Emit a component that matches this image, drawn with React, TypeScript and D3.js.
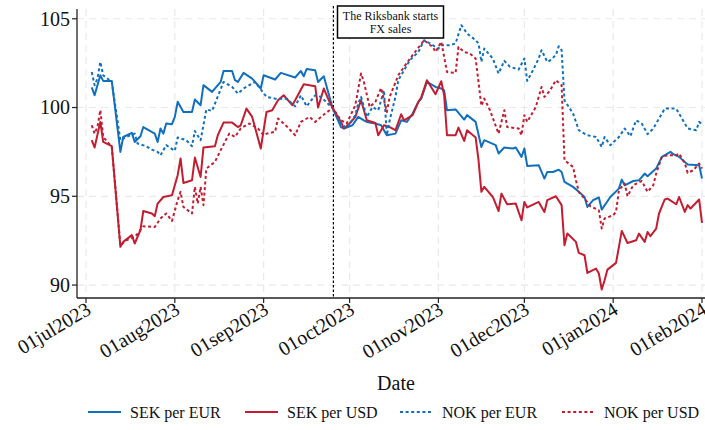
import React from "react";
import * as d3 from "d3";

type Pt = [string, number];

const sekPerEur: Pt[] = [
  ["2023-07-03", 101.13], ["2023-07-04", 100.69], ["2023-07-06", 101.82], ["2023-07-07", 101.5],
  ["2023-07-10", 101.5], ["2023-07-13", 97.5], ["2023-07-14", 98.34], ["2023-07-17", 98.57],
  ["2023-07-18", 98.06], ["2023-07-20", 98.38], ["2023-07-21", 98.9], ["2023-07-25", 98.53],
  ["2023-07-26", 98.06], ["2023-07-27", 98.82], ["2023-07-28", 98.53], ["2023-07-29", 99.1],
  ["2023-07-31", 99.06], ["2023-08-01", 99.47], ["2023-08-02", 100.32], ["2023-08-04", 99.75],
  ["2023-08-07", 99.75], ["2023-08-08", 100.45], ["2023-08-10", 100.13], ["2023-08-11", 101.26],
  ["2023-08-14", 100.88], ["2023-08-17", 101.44], ["2023-08-18", 102.06], ["2023-08-21", 102.06],
  ["2023-08-22", 101.54], ["2023-08-23", 101.44], ["2023-08-25", 101.95], ["2023-08-28", 101.63],
  ["2023-08-31", 101.07], ["2023-09-01", 101.82], ["2023-09-05", 101.58], ["2023-09-07", 101.95],
  ["2023-09-12", 101.69], ["2023-09-14", 102.06], ["2023-09-15", 101.76], ["2023-09-16", 102.17],
  ["2023-09-19", 102.1], ["2023-09-20", 101.44], ["2023-09-22", 101.76], ["2023-09-25", 100.0],
  ["2023-09-28", 98.9], ["2023-09-29", 98.82], ["2023-10-02", 99.0], ["2023-10-04", 99.47],
  ["2023-10-06", 99.28], ["2023-10-07", 99.19], ["2023-10-10", 99.1], ["2023-10-12", 99.0],
  ["2023-10-14", 98.44], ["2023-10-17", 98.53], ["2023-10-19", 99.28], ["2023-10-21", 99.19],
  ["2023-10-23", 99.66], ["2023-10-25", 100.32], ["2023-10-26", 100.5], ["2023-10-28", 101.44],
  ["2023-10-31", 101.16], ["2023-11-02", 101.07], ["2023-11-03", 100.97], ["2023-11-04", 99.85],
  ["2023-11-07", 99.89], ["2023-11-10", 99.32], ["2023-11-11", 99.57], ["2023-11-14", 99.19],
  ["2023-11-16", 97.78], ["2023-11-17", 98.16], ["2023-11-21", 97.88], ["2023-11-22", 97.41],
  ["2023-11-24", 97.75], ["2023-11-27", 97.69], ["2023-11-28", 97.75], ["2023-11-30", 97.22],
  ["2023-12-01", 97.69], ["2023-12-02", 96.71], ["2023-12-06", 96.75], ["2023-12-07", 96.37],
  ["2023-12-08", 96.0], ["2023-12-09", 96.37], ["2023-12-11", 96.37], ["2023-12-13", 96.5],
  ["2023-12-14", 96.37], ["2023-12-15", 95.81], ["2023-12-18", 95.53], ["2023-12-20", 95.25],
  ["2023-12-22", 94.96], ["2023-12-23", 94.4], ["2023-12-25", 94.78], ["2023-12-27", 94.93],
  ["2023-12-28", 94.25], ["2023-12-31", 94.96], ["2024-01-03", 95.43], ["2024-01-04", 95.94],
  ["2024-01-05", 95.62], ["2024-01-08", 95.86], ["2024-01-10", 95.9], ["2024-01-12", 96.28],
  ["2024-01-13", 96.13], ["2024-01-16", 96.56], ["2024-01-18", 97.22], ["2024-01-21", 97.5],
  ["2024-01-22", 97.37], ["2024-01-24", 97.22], ["2024-01-27", 96.79], ["2024-01-31", 96.75],
  ["2024-02-01", 96.0],
];

const sekPerUsd: Pt[] = [
  ["2023-07-03", 98.16], ["2023-07-04", 97.75], ["2023-07-06", 99.19], ["2023-07-07", 98.06],
  ["2023-07-10", 97.82], ["2023-07-13", 92.15], ["2023-07-14", 92.43], ["2023-07-17", 92.81],
  ["2023-07-18", 92.34], ["2023-07-20", 93.09], ["2023-07-21", 94.17], ["2023-07-24", 94.03],
  ["2023-07-25", 93.88], ["2023-07-26", 94.59], ["2023-07-28", 94.96], ["2023-07-31", 95.06],
  ["2023-08-02", 96.19], ["2023-08-03", 97.13], ["2023-08-04", 95.75], ["2023-08-07", 95.9],
  ["2023-08-08", 97.18], ["2023-08-10", 96.09], ["2023-08-11", 97.75], ["2023-08-15", 97.82],
  ["2023-08-16", 98.44], ["2023-08-18", 99.15], ["2023-08-21", 99.15], ["2023-08-23", 98.9],
  ["2023-08-24", 99.0], ["2023-08-26", 99.94], ["2023-08-28", 99.47], ["2023-08-31", 97.69],
  ["2023-09-02", 99.75], ["2023-09-04", 99.85], ["2023-09-06", 100.41], ["2023-09-08", 100.69],
  ["2023-09-11", 100.13], ["2023-09-12", 100.41], ["2023-09-15", 101.31], ["2023-09-19", 101.2],
  ["2023-09-20", 100.0], ["2023-09-22", 101.07], ["2023-09-24", 100.32], ["2023-09-25", 100.0],
  ["2023-09-28", 99.19], ["2023-09-29", 98.82], ["2023-10-01", 99.1], ["2023-10-03", 99.47],
  ["2023-10-05", 100.41], ["2023-10-07", 99.28], ["2023-10-10", 99.13], ["2023-10-11", 98.44],
  ["2023-10-13", 99.0], ["2023-10-15", 98.9], ["2023-10-17", 98.72], ["2023-10-19", 99.62],
  ["2023-10-20", 99.28], ["2023-10-23", 99.57], ["2023-10-25", 100.32], ["2023-10-26", 100.56],
  ["2023-10-28", 101.54], ["2023-10-31", 100.75], ["2023-11-02", 101.48], ["2023-11-03", 100.69],
  ["2023-11-04", 98.44], ["2023-11-07", 98.44], ["2023-11-08", 98.87], ["2023-11-10", 98.12],
  ["2023-11-11", 98.72], ["2023-11-14", 98.31], ["2023-11-15", 97.03], ["2023-11-16", 95.25],
  ["2023-11-17", 95.53], ["2023-11-20", 94.96], ["2023-11-22", 94.17], ["2023-11-23", 95.15],
  ["2023-11-25", 94.55], ["2023-11-28", 94.59], ["2023-11-30", 93.65], ["2023-12-01", 94.68],
  ["2023-12-02", 94.37], ["2023-12-06", 94.68], ["2023-12-08", 94.12], ["2023-12-09", 94.78],
  ["2023-12-12", 95.0], ["2023-12-14", 94.5], ["2023-12-15", 92.24], ["2023-12-16", 92.9],
  ["2023-12-19", 92.43], ["2023-12-20", 91.81], ["2023-12-22", 91.68], ["2023-12-23", 90.68],
  ["2023-12-26", 90.93], ["2023-12-27", 90.65], ["2023-12-28", 89.75], ["2023-12-29", 90.27],
  ["2023-12-30", 90.87], ["2024-01-02", 91.25], ["2024-01-04", 93.05], ["2024-01-06", 92.37],
  ["2024-01-09", 92.52], ["2024-01-10", 92.9], ["2024-01-12", 92.43], ["2024-01-13", 92.99],
  ["2024-01-14", 92.75], ["2024-01-16", 93.18], ["2024-01-17", 94.03], ["2024-01-19", 94.82],
  ["2024-01-20", 94.87], ["2024-01-23", 94.55], ["2024-01-24", 94.96], ["2024-01-26", 94.12],
  ["2024-01-27", 94.5], ["2024-01-28", 94.31], ["2024-01-31", 94.82], ["2024-02-01", 93.5],
];

const nokPerEur: Pt[] = [
  ["2023-07-03", 102.0], ["2023-07-04", 101.26], ["2023-07-05", 101.63], ["2023-07-06", 102.57],
  ["2023-07-07", 101.82], ["2023-07-10", 101.44], ["2023-07-13", 98.16], ["2023-07-15", 98.34],
  ["2023-07-18", 98.53], ["2023-07-19", 97.97], ["2023-07-22", 97.82], ["2023-07-24", 97.63],
  ["2023-07-26", 97.5], ["2023-07-27", 97.31], ["2023-07-29", 97.88], ["2023-08-01", 97.56],
  ["2023-08-02", 98.31], ["2023-08-05", 98.16], ["2023-08-07", 97.82], ["2023-08-08", 98.68],
  ["2023-08-10", 98.16], ["2023-08-12", 99.89], ["2023-08-14", 99.81], ["2023-08-18", 101.44],
  ["2023-08-21", 101.16], ["2023-08-23", 100.79], ["2023-08-25", 101.07], ["2023-08-29", 101.44],
  ["2023-09-02", 100.6], ["2023-09-05", 100.5], ["2023-09-09", 100.5], ["2023-09-12", 100.07],
  ["2023-09-14", 100.69], ["2023-09-16", 100.07], ["2023-09-19", 100.69], ["2023-09-21", 100.6],
  ["2023-09-24", 100.13], ["2023-09-25", 100.0], ["2023-09-28", 99.1], ["2023-09-30", 98.82],
  ["2023-10-03", 99.57], ["2023-10-04", 100.22], ["2023-10-05", 100.6], ["2023-10-07", 99.47],
  ["2023-10-09", 100.03], ["2023-10-11", 99.85], ["2023-10-13", 100.97], ["2023-10-14", 98.44],
  ["2023-10-15", 99.28], ["2023-10-17", 100.6], ["2023-10-18", 101.54], ["2023-10-20", 102.1],
  ["2023-10-22", 102.66], ["2023-10-25", 103.13], ["2023-10-27", 103.79], ["2023-10-29", 103.61],
  ["2023-11-01", 103.32], ["2023-11-02", 103.51], ["2023-11-05", 103.51], ["2023-11-07", 103.61],
  ["2023-11-09", 104.64], ["2023-11-11", 104.17], ["2023-11-14", 103.79], ["2023-11-15", 103.61],
  ["2023-11-16", 102.57], ["2023-11-17", 103.32], ["2023-11-20", 102.76], ["2023-11-22", 101.92],
  ["2023-11-24", 102.63], ["2023-11-26", 102.29], ["2023-11-29", 102.14], ["2023-12-01", 102.76],
  ["2023-12-02", 101.5], ["2023-12-04", 102.1], ["2023-12-06", 102.76], ["2023-12-07", 103.23],
  ["2023-12-09", 102.57], ["2023-12-10", 102.66], ["2023-12-12", 102.95], ["2023-12-13", 103.45],
  ["2023-12-14", 103.23], ["2023-12-15", 100.41], ["2023-12-18", 99.66], ["2023-12-20", 98.72],
  ["2023-12-23", 98.44], ["2023-12-26", 98.34], ["2023-12-28", 97.78], ["2023-12-29", 98.34],
  ["2023-12-31", 97.88], ["2024-01-03", 98.34], ["2024-01-05", 98.82], ["2024-01-07", 98.38],
  ["2024-01-09", 99.28], ["2024-01-11", 99.1], ["2024-01-13", 98.5], ["2024-01-15", 98.82],
  ["2024-01-19", 99.94], ["2024-01-23", 99.94], ["2024-01-24", 99.66], ["2024-01-27", 98.82],
  ["2024-01-30", 98.72], ["2024-01-31", 99.19], ["2024-02-01", 99.06],
];

const nokPerUsd: Pt[] = [
  ["2023-07-03", 99.0], ["2023-07-04", 98.53], ["2023-07-05", 98.9], ["2023-07-06", 99.85],
  ["2023-07-07", 98.34], ["2023-07-10", 97.78], ["2023-07-13", 92.24], ["2023-07-15", 92.52],
  ["2023-07-18", 92.71], ["2023-07-19", 92.9], ["2023-07-21", 93.31], ["2023-07-25", 93.27],
  ["2023-07-27", 93.75], ["2023-07-29", 94.03], ["2023-07-31", 93.61], ["2023-08-02", 94.78],
  ["2023-08-03", 95.25], ["2023-08-04", 94.4], ["2023-08-07", 94.03], ["2023-08-08", 95.53],
  ["2023-08-09", 94.59], ["2023-08-10", 95.53], ["2023-08-11", 94.5], ["2023-08-12", 96.56],
  ["2023-08-15", 96.94], ["2023-08-17", 97.6], ["2023-08-20", 98.53], ["2023-08-22", 98.34],
  ["2023-08-24", 98.82], ["2023-08-27", 99.1], ["2023-08-30", 98.82], ["2023-09-01", 98.44],
  ["2023-09-02", 98.53], ["2023-09-05", 98.63], ["2023-09-06", 99.38], ["2023-09-09", 98.95],
  ["2023-09-12", 98.44], ["2023-09-14", 99.19], ["2023-09-17", 99.47], ["2023-09-19", 99.19],
  ["2023-09-21", 99.47], ["2023-09-24", 99.85], ["2023-09-25", 100.0], ["2023-09-28", 99.28],
  ["2023-09-30", 99.1], ["2023-10-03", 100.13], ["2023-10-05", 101.92], ["2023-10-06", 101.44],
  ["2023-10-08", 100.03], ["2023-10-10", 100.32], ["2023-10-12", 101.1], ["2023-10-14", 99.75],
  ["2023-10-15", 100.6], ["2023-10-18", 101.82], ["2023-10-20", 102.29], ["2023-10-23", 102.95],
  ["2023-10-27", 103.79], ["2023-10-30", 103.41], ["2023-10-31", 103.13], ["2023-11-02", 103.7],
  ["2023-11-04", 102.0], ["2023-11-07", 101.95], ["2023-11-08", 103.41], ["2023-11-10", 103.13],
  ["2023-11-12", 103.04], ["2023-11-14", 102.76], ["2023-11-16", 100.1], ["2023-11-17", 100.5],
  ["2023-11-19", 99.85], ["2023-11-22", 98.53], ["2023-11-24", 99.85], ["2023-11-25", 98.9],
  ["2023-11-29", 98.82], ["2023-11-30", 98.44], ["2023-12-01", 99.57], ["2023-12-02", 99.19],
  ["2023-12-05", 100.03], ["2023-12-07", 101.16], ["2023-12-08", 100.6], ["2023-12-10", 100.97],
  ["2023-12-12", 101.54], ["2023-12-14", 101.26], ["2023-12-15", 97.03], ["2023-12-18", 96.65],
  ["2023-12-19", 95.9], ["2023-12-20", 95.25], ["2023-12-22", 94.87], ["2023-12-24", 94.44],
  ["2023-12-27", 94.21], ["2023-12-28", 93.18], ["2023-12-29", 93.75], ["2024-01-01", 93.93],
  ["2024-01-02", 94.12], ["2024-01-03", 95.34], ["2024-01-05", 95.72], ["2024-01-06", 95.0],
  ["2024-01-08", 95.62], ["2024-01-11", 95.86], ["2024-01-13", 95.25], ["2024-01-15", 95.62],
  ["2024-01-16", 96.28], ["2024-01-18", 97.22], ["2024-01-20", 97.31], ["2024-01-23", 97.31],
  ["2024-01-24", 97.41], ["2024-01-26", 96.85], ["2024-01-27", 96.32], ["2024-01-29", 96.47],
  ["2024-01-31", 96.85], ["2024-02-01", 96.56],
];

const seriesNames = ["SEK per EUR", "SEK per USD", "NOK per EUR", "NOK per USD"];
const yTicks = [90, 95, 100, 105];
const xTickDates = [
  "2023-07-01", "2023-08-01", "2023-09-01", "2023-10-01",
  "2023-11-01", "2023-12-01", "2024-01-01", "2024-02-01",
];
const xTickLabels = [
  "01jul2023", "01aug2023", "01sep2023", "01oct2023",
  "01nov2023", "01dec2023", "01jan2024", "01feb2024",
];
const eventDate = "2023-09-25";
const eventLines = ["The Riksbank starts", "FX sales"];
const xTitle = "Date";

const BLUE = "#1170bd";
const RED = "#c21d30";
const FONT = "'Liberation Serif', 'Times New Roman', serif";

export default function App() {
  const parse = d3.timeParse("%Y-%m-%d");
  const W = 705;
  const H = 430;
  const left = 77;
  const right = 705;
  const top = 9;
  const bottom = 298;

  const x = d3
    .scaleTime()
    .domain([parse("2023-07-01")!, parse("2024-02-01")!])
    .range([86, 702]);
  const y = d3.scaleLinear().domain([89.27, 105.55]).range([bottom, top]);

  const line = d3
    .line<Pt>()
    .x((d) => x(parse(d[0])!))
    .y((d) => y(d[1]));

  const series = [
    { name: seriesNames[0], data: sekPerEur, color: BLUE, dash: undefined as string | undefined },
    { name: seriesNames[1], data: sekPerUsd, color: RED, dash: undefined },
    { name: seriesNames[2], data: nokPerEur, color: BLUE, dash: "3 2.6" },
    { name: seriesNames[3], data: nokPerUsd, color: RED, dash: "3 2.6" },
  ];

  const ex = x(parse(eventDate)!) + 1;
  const legendX = [88, 245, 400, 562];

  return (
    <svg
      width={W}
      height={H}
      style={{ position: "absolute", left: 0, top: 0, display: "block", background: "#fff" }}
      fontFamily={FONT}
    >
      <rect x={0} y={0} width={W} height={H} fill="#fff" />
      {yTicks.map((t) => (
        <line key={"gy" + t} x1={left} x2={right} y1={y(t)} y2={y(t)} stroke="#e9e9e9" strokeWidth={1.2} strokeDasharray="7 5" />
      ))}
      {xTickDates.map((t) => (
        <line key={"gx" + t} x1={x(parse(t)!)} x2={x(parse(t)!)} y1={top} y2={bottom} stroke="#e9e9e9" strokeWidth={1.2} strokeDasharray="7 5" />
      ))}
      <line x1={ex} x2={ex} y1={6} y2={bottom} stroke="#000" strokeWidth={1.2} strokeDasharray="2.5 2" />
      {series.map((s) => (
        <path
          key={s.name}
          d={line(s.data) || ""}
          fill="none"
          stroke={s.color}
          strokeWidth={2}
          strokeDasharray={s.dash}
          strokeLinejoin="round"
        />
      ))}
      <rect x={337.5} y={6} width={106} height={32} fill="#fff" stroke="#000" strokeWidth={1.5} />
      {eventLines.map((t, i) => (
        <text key={t} x={390.5} y={20 + i * 13} fontSize={12} textAnchor="middle" fill="#111">
          {t}
        </text>
      ))}
      <line x1={left} x2={left} y1={top} y2={bottom} stroke="#222" strokeWidth={1.3} />
      <line x1={left} x2={right} y1={bottom} y2={bottom} stroke="#222" strokeWidth={1.3} />
      {yTicks.map((t) => (
        <g key={"yt" + t}>
          <line x1={left - 5} x2={left} y1={y(t)} y2={y(t)} stroke="#222" strokeWidth={1.2} />
          <text x={left - 7} y={y(t)} dy="0.34em" fontSize={20} textAnchor="end" fill="#111">
            {t}
          </text>
        </g>
      ))}
      {xTickDates.map((t, i) => {
        const xx = x(parse(t)!);
        return (
          <g key={"xt" + t}>
            <line x1={xx} x2={xx} y1={bottom} y2={bottom + 5} stroke="#222" strokeWidth={1.2} />
            <text
              transform={`translate(${xx - 1},${bottom + 3}) rotate(-31)`}
              fontSize={20}
              textAnchor="end"
              dy="0.7em"
              fill="#111"
            >
              {xTickLabels[i]}
            </text>
          </g>
        );
      })}
      <text x={396} y={390} fontSize={20} textAnchor="middle" fill="#111">
        {xTitle}
      </text>
      {series.map((s, i) => (
        <g key={"lg" + s.name}>
          <line x1={legendX[i]} x2={legendX[i] + 33} y1={412} y2={412} stroke={s.color} strokeWidth={2} strokeDasharray={s.dash} />
          <text x={legendX[i] + 42} y={412} dy="0.35em" fontSize={16} fill="#111">
            {s.name}
          </text>
        </g>
      ))}
    </svg>
  );
}
